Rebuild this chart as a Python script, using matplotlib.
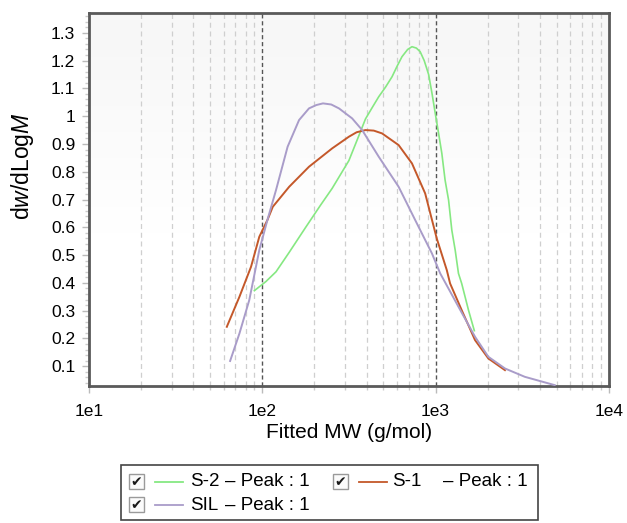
import numpy as np
import matplotlib
matplotlib.use('Agg')
import matplotlib.pyplot as plt
from matplotlib.patches import Rectangle
from matplotlib.lines import Line2D

plt.rcParams['font.family'] = ['Liberation Sans', 'DejaVu Sans']
plt.rcParams['mathtext.fontset'] = 'custom'
plt.rcParams['mathtext.rm'] = 'Liberation Sans'
plt.rcParams['mathtext.it'] = 'Liberation Sans:italic'

# data
s2_mw = [90, 105, 120, 143, 178, 217, 253, 316, 361, 394, 430, 470, 515, 561, 600, 640, 690, 731, 775, 815, 860, 912, 955, 996, 1040,
         1087, 1135, 1189, 1241, 1298, 1356, 1415, 1549, 1674]
s2_val = [0.372, 0.405, 0.440, 0.510, 0.600, 0.680, 0.740, 0.840, 0.930, 0.990, 1.030, 1.070, 1.105, 1.142, 1.180, 1.214, 1.240, 1.250, 1.245, 1.232, 1.200, 1.150, 1.080, 1.010, 0.940,
          0.866, 0.770, 0.698, 0.590, 0.518, 0.434, 0.398, 0.302, 0.228]

s1_mw = [62.4, 73.8, 86.1, 96.1, 107, 115, 143, 186, 253, 316, 350, 394, 440, 491, 612, 731, 871, 1016, 1161, 1213, 1415, 1690, 2017, 2515]
s1_val = [0.242, 0.350, 0.458, 0.566, 0.626, 0.674, 0.746, 0.818, 0.884, 0.926, 0.942, 0.950, 0.948, 0.938, 0.896, 0.830, 0.722, 0.560, 0.446, 0.398, 0.302, 0.194, 0.128, 0.086]

sil_mw = [65.2, 73.8, 84.1, 96.1, 107, 120, 140, 163, 186, 205, 224, 250, 277, 330, 377, 470, 612, 763, 953, 1064, 1356, 1690, 2017, 2515, 3273, 4873]
sil_val = [0.119, 0.218, 0.338, 0.518, 0.626, 0.734, 0.890, 0.986, 1.028, 1.040, 1.046, 1.042, 1.028, 0.992, 0.950, 0.854, 0.746, 0.626, 0.506, 0.434, 0.314, 0.206, 0.134, 0.092, 0.062, 0.032]

series_names = ['S-2', 'S-1', 'SIL']
series_colors = ['#86e882', '#c4582a', '#a99cc9']

fig = plt.figure(figsize=(6.27, 5.23), dpi=100)
ax = fig.add_axes([0.142, 0.262, 0.829, 0.713])

ax.set_xscale('log')
ax.set_xlim(10, 1e4)
ax.set_ylim(0.029, 1.371)

# light gradient at top of plot
grad = np.linspace(0, 1, 100).reshape(-1, 1)
grad = np.clip(grad * 1.6 - 0.6, 0, 1)
ax.imshow(grad, extent=(10, 1e4, 0.029, 1.371), aspect='auto', cmap='Greys',
          vmin=0, vmax=14, origin='lower', zorder=0)

for dec in [10, 100, 1000]:
    for k in range(2, 10):
        ax.axvline(dec * k, color='#cfcfcf', lw=0.9, ls=(0, (4, 3)), zorder=1)
for v in [100, 1000]:
    ax.axvline(v, color='#555555', lw=1.0, ls=(0, (3, 2)), zorder=1)

ax.plot(s2_mw, s2_val, color=series_colors[0], lw=1.2, zorder=3)
ax.plot(s1_mw, s1_val, color=series_colors[1], lw=1.4, zorder=3)
ax.plot(sil_mw, sil_val, color=series_colors[2], lw=1.4, zorder=3)

ax.set_xticks([10, 100, 1000, 10000])
ax.set_xticklabels(['1e1', '1e2', '1e3', '1e4'])
ax.set_yticks(np.round(np.arange(0.1, 1.31, 0.1), 1))
ax.set_yticklabels(['0.1', '0.2', '0.3', '0.4', '0.5', '0.6', '0.7', '0.8', '0.9', '1', '1.1', '1.2', '1.3'])
ax.set_yticks(np.arange(0.04, 1.37, 0.02), minor=True)
ax.tick_params(axis='both', which='major', labelsize=12.5, length=5, color='#bbbbbb', width=1)
ax.tick_params(axis='both', which='minor', length=3, color='#cccccc', width=1)
ax.tick_params(axis='y', which='major', pad=5)
ax.tick_params(axis='x', which='major', pad=8)
ax.xaxis.set_minor_formatter(plt.NullFormatter())

for sp in ax.spines.values():
    sp.set_color('#5a5a5a')
    sp.set_linewidth(2)

ax.set_xlabel('Fitted MW (g/mol)', fontsize=15, labelpad=3)
ax.set_ylabel(r'd$\it{w}$/dLog$\it{M}$', fontsize=16.5)
ax.yaxis.set_label_coords(-0.102, 0.59)

# legend drawn by hand
W, H = 627, 523
def fx(px):
    return px / W
def fy(py):
    return 1 - py / H

fig.patches.append(Rectangle((fx(121), fy(520)), fx(538) - fx(121), fy(465) - fy(520),
                             transform=fig.transFigure, fill=False, ec='#444444', lw=1.2))

entries = [(129, 482, 0, 190, 225), (333, 482, 1, 392, 443), (129, 505, 2, 190, 225)]
for cx, cy, i, name_x, tail_x in entries:
    fig.patches.append(Rectangle((fx(cx), fy(cy + 7)), fx(15), 15 / H,
                                 transform=fig.transFigure, fill=True, fc='#fbfbfb', ec='#9a9a9a', lw=1))
    fig.text(fx(cx + 7.5), fy(cy + 0.5), '\u2714', family='DejaVu Sans', fontsize=10,
             ha='center', va='center', color='#1a1a1a')
    fig.lines.append(Line2D([fx(cx + 26), fx(cx + 54)], [fy(cy), fy(cy)],
                            transform=fig.transFigure, color=series_colors[i], lw=1.3))
    fig.text(fx(name_x), fy(cy), series_names[i], fontsize=13.5, va='center')
    fig.text(fx(tail_x), fy(cy), '– Peak : 1', fontsize=13.5, va='center')

fig.savefig('out.png', dpi=100)
